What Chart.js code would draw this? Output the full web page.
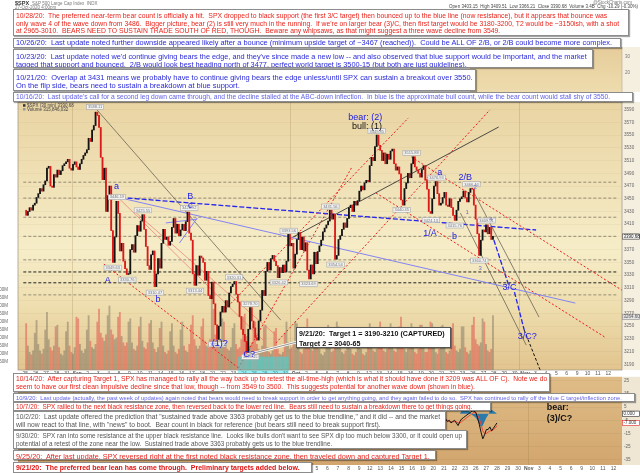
<!DOCTYPE html>
<html>
<head>
<meta charset="utf-8">
<script src="https://cdn.jsdelivr.net/npm/chart.js@4.4.1/dist/chart.umd.min.js"></script>
<style>
  html, body { margin: 0; padding: 0; background: #fff; }
  body { width: 640px; height: 473px; position: relative; overflow: hidden; font-family: "Liberation Sans", Arial, sans-serif; }
  canvas { position: absolute; left: 0; }
  #priceCanvas { top: 0; }
  #oscCanvas { top: 372px; }
  .note { position: absolute; background: #fff; border: 1px solid #8c8c8c; box-shadow: 1px 1px 1px rgba(0,0,0,0.35); box-sizing: border-box; overflow: hidden; }
  .note .txt { position: absolute; transform-origin: 0 0; white-space: pre; width: max-content; font-size: 10px; }
</style>
</head>
<body>
<canvas id="priceCanvas" width="640" height="380" style="width:640px;height:380px"></canvas>
<canvas id="oscCanvas" width="640" height="101" style="width:640px;height:101px"></canvas>
<div id="notes"></div>
<script>
// ---- data ----
const dayLabels = ['25','26','27','28','31','Sep','2','3','4','8','9','10','11','14','15','16','17','18',
  '21','22','23','24','25','28','29','30','Oct','2','5','6','7','8','9','12','13','14','15','16',
  '19','20','21','22','23','26','27','28','29','30','Nov','3','4','5','6','9','10','11','12'];
const monthNames = ['Sep', 'Oct', 'Nov'];
const slotsPerDay = 6;

// SPX 30-min path, 6 samples per trading day (first value = Aug 25 open)
const priceValues = [3432,
  3424,3430,3436,3432,3440,3443,  3452,3458,3466,3462,3472,3478,  3498,3501,3470,3468,3488,3484,
  3495,3488,3494,3502,3505,3508,  3512,3498,3495,3504,3508,3500,  3496,3505,3512,3518,3522,3527,
  3545,3540,3558,3565,3586,3581,  3562,3515,3480,3498,3430,3455,  3470,3400,3350,3390,3446,3427,
  3368,3380,3352,3340,3331,3332,  3370,3378,3366,3392,3408,3399,  3415,3425,3402,3375,3345,3339,
  3362,3368,3312,3332,3356,3341,  3380,3402,3386,3390,3377,3383,  3405,3419,3396,3410,3392,3401,
  3410,3400,3414,3429,3396,3385,  3332,3314,3345,3330,3360,3357,  3350,3322,3336,3298,3293,3319,
  3285,3252,3229,3250,3272,3281,  3272,3290,3280,3302,3312,3316,  3320,3300,3288,3265,3245,3237,
  3226,3209,3245,3279,3258,3247,  3232,3228,3258,3275,3306,3298,  3336,3350,3338,3356,3361,3352,
  3345,3326,3342,3334,3346,3335,  3352,3394,3376,3380,3341,3363,  3386,3397,3370,3390,3368,3381,
  3338,3324,3346,3332,3366,3348,  3367,3376,3385,3398,3404,3409,  3415,3432,3418,3426,3355,3361,
  3386,3392,3402,3412,3405,3419,  3436,3440,3430,3446,3440,3447,  3462,3470,3464,3475,3479,3477,
  3502,3515,3510,3532,3550,3534,  3526,3510,3522,3505,3520,3512,  3525,3528,3505,3495,3500,3489,
  3448,3440,3466,3475,3490,3483,  3505,3516,3500,3495,3490,3484,  3496,3502,3480,3465,3430,3427,
  3450,3470,3477,3458,3440,3443,  3452,3460,3440,3438,3450,3436,  3424,3416,3432,3446,3450,3453,
  3462,3452,3445,3460,3466,3465,  3440,3418,3395,3361,3385,3401,  3398,3409,3395,3405,3386,3391];

// volume (millions) per slot
const volumeValues = [
  290,150,110,95,120,230,  310,160,120,100,130,250,  360,190,140,120,150,270,  280,140,100,90,120,240,
  300,150,110,100,140,330,  320,160,120,105,130,250,  340,180,140,130,160,300,  380,230,200,180,220,340,
  400,250,220,190,200,330,  360,210,170,150,170,300,  320,170,130,120,150,270,  330,180,140,130,170,290,
  310,170,130,110,140,260,  300,150,110,100,120,240,  290,150,110,100,130,250,  300,150,120,110,160,280,
  340,190,150,130,150,270,  320,180,150,140,190,520,  380,220,180,170,190,320,  300,170,130,120,140,260,
  290,160,130,140,190,330,  350,210,170,150,170,290,  300,160,130,120,150,270,  280,140,110,100,120,240,
  260,130,100,95,110,230,  300,170,130,140,170,300,  290,150,110,100,130,250,  320,170,130,120,140,260,
  260,130,100,90,110,220,  280,140,110,120,220,300,  270,140,110,100,120,240,  260,130,100,90,110,230,
  250,130,100,90,110,230,  290,160,120,110,130,260,  300,160,120,110,130,250,  290,150,120,110,140,270,
  330,180,130,110,130,260,  290,150,110,100,130,280,  280,140,110,110,150,300,  290,150,110,100,130,270,
  280,140,110,100,120,260,  290,150,120,110,130,270,  270,140,110,100,120,280,  330,190,160,150,170,320,
  300,160,120,110,130,340];
const volumeTicks = [50,100,150,200,250,300,350,400,450,500];

// resistance / support levels
const grayLevels = [3476, 3451, 3421, 3391, 3354, 3299];
const blackLevels = [3335, 3318];

// trend lines [t1, p1, t2, p2] (t = trading-day index)
const redLines = [[7.55,3347.4,20.75,3180.8],[37.08,3515.7,58.49,3294],[33.68,3459.1,55.66,3232.7],
  [20.47,3183.9,31.32,3498.4],[24.06,3223.2,44.62,3589.6],[18.68,3267.3,36.79,3577]];
const salmonLines = [[8.96,3451.2,22.83,3228],[10.66,3427.6,24.06,3235.8]];
const grayLines = [[6.89,3589.6,24.53,3259.4],[41.79,3427.6,48.11,3220.1],[43.11,3459.1,49.34,3264.1]];
const bullLines = [[25.19,3385.2,45.47,3562.8]];
const blueDashLines = [[8.49,3452.8,49.06,3400.9],[45.0,3385.2,46.42,3314.4],[46.98,3303.4,47.92,3243.7]];
const lightBlueLines = [[8.77,3452.8,52.83,3286.1],[13.49,3412,16.51,3418],[14.81,3380.5,16.51,3419.8]];
const blackDashLines = [[47.92,3243.7,49.53,3177.6]];

// wave labels [text, t, price]
const waveLabels = [['a',8.77,3468.5],['A',7.92,3322],['b',12.74,3291],['B',15.85,3453],['c',15.85,3440],
  ['(1)?',18.68,3222],['C?',21.51,3206],['bear: (2)',32.64,3577],['a',39.81,3490.5],['2/B',42.26,3482.6],
  ['1/A',38.87,3396],['b',41.23,3390],['3/C',46.5,3310],['3/C?',48.2,3234]];
const bullLabels = [['bull: (1)',32.83,3563]];
const subLabels = [['1',42.45,3428],['2',43.2,3468],['3',43.68,3341],['4',44.72,3418]];

// pivot price tags [t, price]
const highTags = [[6.7,3588.11],[8.8,3446.19],[11.3,3425.55],[15.75,3428.92],[20.05,3320.31],[21.6,3278.70],
  [25.3,3393.56],[29.3,3431.56],[33.75,3549.85],[37.1,3515.88],[39.5,3476.93],[42.85,3466.46],[44.3,3409.51]];
const lowTags = [[8.4,3349.63],[9.8,3330.76],[12.45,3310.47],[16.3,3313.44],[18.45,3229.10],[21.6,3209.45],
  [24.35,3326.42],[27.2,3323.69],[29.8,3354.54],[36.15,3440.45],[38.95,3424.13],[41.25,3415.76],[43.6,3360.74]];
const targetZoneT = [20.4, 25.3];
const targetZoneP = [3170, 3202];
const lastClose = 3390.68;
const maValue = 3264.60;

// lower panel oscillator, from Oct 19 (slot 228)
const oscFirstSlot = 228;
const oscBlack = [2,0,-3,-5,-8,-10,-11, -9,-6,-4,-3,-4,-5, -4,-6,-5,-7,-6,-5, -7,-9,-6,-4,-3,-2,
  -1,0,1,2,2,1, -3,-8,-14,-19,-16,-12, -12,-10,-13,-11,-9,-7];
const oscRed = [4,2,0,-2,-4,-6,-8, -8,-7,-6,-5,-5,-5, -5,-5,-6,-6,-6,-6, -6,-7,-7,-6,-5,-4,
  -3,-2,-1,0,1,1, -1,-4,-8,-13,-15,-15, -14,-13,-13,-12,-11,-9];
const oscHist = [0,0,0,0,0,0,0, 0,0,0,0,0,0, 0,0,0,0,0,0, 0,0,0,2,3,3, 3,2,1,-1,-2,-3,
  -5,-8,-10,-9,-6,-3, -1,2,3,2,1,0];
const oscTicks = [-35,-30,-25,-20,-15,-10,-5,0,5,10,15,20,25];
const bearLabels = [['bear:',49.7,4.7],['(3)/C?',49.7,-3.6]];

const priceTicks = [];
for (let v = 3190; v <= 3600; v += 10) priceTicks.push(v);

// ---- datasets ----
const FONT = '"Liberation Sans", Arial, sans-serif';
const candles = [], volumes = [];
for (let i = 1; i < priceValues.length; i++) {
  const t = (i - 0.5) / slotsPerDay;
  candles.push({x: t, y: [priceValues[i - 1], priceValues[i]]});
  volumes.push({x: t, y: volumeValues[i - 1], up: priceValues[i] >= priceValues[i - 1]});
}

function segs(list, style) {
  return list.map(s => Object.assign({
    type: 'line', yAxisID: 'y', pointRadius: 0, fill: false, order: 2,
    data: [{x: s[0], y: s[1]}, {x: s[2], y: s[3]}]
  }, style));
}
function levels(list, style) {
  return list.map(v => Object.assign({
    type: 'line', yAxisID: 'y', pointRadius: 0, fill: false, order: 3,
    data: [{x: -0.19, y: v}, {x: 56.8, y: v}]
  }, style));
}

const datasets = [
  {type: 'bar', yAxisID: 'yv', data: volumes, order: 4, grouped: false, barThickness: 1.2,
   backgroundColor: ctx => ctx.raw && ctx.raw.up ? 'rgba(112,106,92,0.45)' : 'rgba(222,88,78,0.55)'},
  ...levels(grayLevels, {borderColor: '#7d7565', borderWidth: 0.8, borderDash: [3, 2]}),
  ...levels(blackLevels, {borderColor: '#222', borderWidth: 1, borderDash: [3, 2]}),
  ...segs(lightBlueLines, {borderColor: '#8484f5', borderWidth: 1}),
  ...segs(salmonLines, {borderColor: 'rgba(235,110,100,0.8)', borderWidth: 0.8}),
  ...segs(grayLines, {borderColor: '#6b6455', borderWidth: 0.8}),
  ...segs(bullLines, {borderColor: '#3a3a3a', borderWidth: 0.9}),
  ...segs(redLines, {borderColor: '#ee1c1c', borderWidth: 1, borderDash: [2, 2]}),
  ...segs(blueDashLines, {borderColor: '#2424f0', borderWidth: 1.3, borderDash: [5, 2]}),
  ...segs(blackDashLines, {borderColor: '#111', borderWidth: 1, borderDash: [3, 2]}),
  {type: 'bar', yAxisID: 'y', data: candles, order: 0, grouped: false, barThickness: 1.2, minBarLength: 1,
   backgroundColor: ctx => ctx.raw && ctx.raw.y[1] >= ctx.raw.y[0] ? '#141414' : '#dc1a1a'}
];

function drawTag(ctx, px, py, txt) {
  ctx.font = '4px ' + FONT;
  const w = ctx.measureText(txt).width + 3;
  ctx.fillStyle = '#f2f2f2';
  ctx.strokeStyle = '#a8a8a8';
  ctx.lineWidth = 0.6;
  ctx.fillRect(px - w / 2, py - 2.5, w, 5);
  ctx.strokeRect(px - w / 2, py - 2.5, w, 5);
  ctx.fillStyle = '#777';
  ctx.fillText(txt, px, py + 0.2);
}

const priceBg = {
  id: 'priceBg',
  beforeDraw(chart) {
    const {ctx, chartArea: a} = chart;
    ctx.save();
    const g = ctx.createLinearGradient(0, a.top, 0, a.bottom);
    g.addColorStop(0, '#e9d4a3');
    g.addColorStop(0.3, '#f0e1b6');
    g.addColorStop(0.55, '#f6edc8');
    g.addColorStop(0.75, '#efdfb0');
    g.addColorStop(1, '#e2c48f');
    ctx.fillStyle = g;
    ctx.fillRect(a.left, a.top, a.right - a.left, a.bottom - a.top);
    ctx.fillStyle = '#f5efdf';
    ctx.fillRect(a.right, a.top, chart.width - a.right, a.bottom - a.top);
    // remnant strip of the previous chart behind the notes
    const s = ctx.createLinearGradient(0, 47, 0, 92);
    s.addColorStop(0, '#e6cc9a');
    s.addColorStop(1, '#eedcae');
    ctx.fillStyle = s;
    ctx.fillRect(470, 47, 152, 45);
    ctx.fillStyle = '#f5efdf';
    ctx.fillRect(622, 47, 18, 45);
    ctx.strokeStyle = '#b9a98a';
    ctx.lineWidth = 0.6;
    ctx.beginPath(); ctx.moveTo(622, 47); ctx.lineTo(622, 92); ctx.stroke();
    ctx.fillStyle = '#777';
    ctx.font = '4.5px ' + FONT;
    ctx.textAlign = 'left';
    ctx.textBaseline = 'middle';
    ctx.fillText('30', 625, 57);
    ctx.fillText('20', 625, 73);
    ctx.restore();
  },
  afterDraw(chart) {
    const {ctx, chartArea: a} = chart;
    ctx.save();
    ctx.strokeStyle = '#9a9080';
    ctx.lineWidth = 0.7;
    ctx.strokeRect(a.left, a.top, a.right - a.left, a.bottom - a.top);
    // header
    ctx.textBaseline = 'middle';
    ctx.textAlign = 'left';
    ctx.fillStyle = '#333';
    ctx.font = 'bold 5.5px ' + FONT;
    ctx.fillText('$SPX', 15, 3.5);
    ctx.font = '4.5px ' + FONT;
    ctx.fillStyle = '#777';
    ctx.fillText('S&P 500 Large Cap Index  INDX', 32, 3.5);
    ctx.fillText('27-Oct-2020 4:00pm', 15, 8);
    ctx.textAlign = 'right';
    ctx.fillText('@StockCharts.com', 632, 3);
    ctx.fillStyle = '#444';
    ctx.fillText('Open 3403.15  High 3409.51  Low 3366.21  Close 3390.68  Volume 3.4B  Chg -10.29 (-0.30%)', 638, 7.2);
    // legend
    ctx.textAlign = 'left';
    ctx.fillStyle = '#333';
    ctx.fillRect(a.left + 5, a.top + 2.2, 2.5, 2.5);
    ctx.fillStyle = '#999';
    ctx.fillRect(a.left + 5, a.top + 6, 2.5, 2.5);
    ctx.fillStyle = '#444';
    ctx.font = '4.5px ' + FONT;
    ctx.fillText('$SPX (30 min) 3390.68', a.left + 9, a.top + 3.5);
    ctx.fillText('Volume 315,846,032', a.left + 9, a.top + 7.3);
    ctx.restore();
  }
};

const marks = {
  id: 'marks',
  afterDatasetsDraw(chart) {
    const {ctx, chartArea: a} = chart;
    const x = chart.scales.x, y = chart.scales.y;
    ctx.save();
    // cyan target zone
    const zx1 = x.getPixelForValue(targetZoneT[0]), zx2 = x.getPixelForValue(targetZoneT[1]);
    const zy1 = y.getPixelForValue(targetZoneP[1]), zy2 = y.getPixelForValue(targetZoneP[0]);
    ctx.fillStyle = 'rgba(40,225,235,0.5)';
    ctx.fillRect(zx1, zy1, zx2 - zx1, zy2 - zy1);
    // callout from the 9/21 box to the C? low
    const cx = x.getPixelForValue(21.3), cy = y.getPixelForValue(3205);
    ctx.lineCap = 'round';
    ctx.strokeStyle = '#fff';
    ctx.lineWidth = 2.4;
    ctx.beginPath(); ctx.moveTo(297, 342); ctx.lineTo(cx, cy); ctx.stroke();
    ctx.strokeStyle = '#777';
    ctx.lineWidth = 0.8;
    ctx.beginPath(); ctx.moveTo(297, 342); ctx.lineTo(cx, cy); ctx.stroke();
    // pivot tags
    ctx.textAlign = 'center';
    ctx.textBaseline = 'middle';
    highTags.forEach(([t, p]) => drawTag(ctx, x.getPixelForValue(t), y.getPixelForValue(p) - 4, p.toFixed(2)));
    lowTags.forEach(([t, p]) => drawTag(ctx, x.getPixelForValue(t), y.getPixelForValue(p) + 5, p.toFixed(2)));
    // wave labels
    ctx.font = '9px ' + FONT;
    ctx.fillStyle = '#2020e8';
    waveLabels.forEach(([txt, t, p]) => ctx.fillText(txt, x.getPixelForValue(t), y.getPixelForValue(p)));
    ctx.fillStyle = '#111';
    bullLabels.forEach(([txt, t, p]) => ctx.fillText(txt, x.getPixelForValue(t), y.getPixelForValue(p)));
    ctx.font = '6px ' + FONT;
    ctx.fillStyle = '#6f6fc8';
    subLabels.forEach(([txt, t, p]) => ctx.fillText(txt, x.getPixelForValue(t), y.getPixelForValue(p)));
    // axis price markers
    ctx.font = '4.5px ' + FONT;
    ctx.textAlign = 'left';
    [[lastClose, '#fff', '#222', '#111'], [maValue, '#e4e4e4', '#888', '#555']].forEach(([v, bg, bd, fg]) => {
      const py = y.getPixelForValue(v);
      ctx.fillStyle = bg; ctx.strokeStyle = bd; ctx.lineWidth = 0.6;
      ctx.fillRect(a.right + 0.5, py - 2.6, 17, 5.2);
      ctx.strokeRect(a.right + 0.5, py - 2.6, 17, 5.2);
      ctx.fillStyle = fg;
      ctx.fillText(v.toFixed(2), a.right + 1.5, py + 0.2);
    });
    ctx.restore();
  }
};

const xTicks = {
  type: 'linear', min: -0.19, max: 56.8, position: 'bottom',
  afterBuildTicks: s => { s.ticks = dayLabels.map((_, i) => ({value: i})); },
  afterFit: s => { s.height = 10; },
  border: {display: false},
  grid: {drawTicks: false, lineWidth: 0.7,
    color: c => c.tick && monthNames.includes(dayLabels[c.tick.value]) ? 'rgba(150,120,70,0.35)' : 'rgba(0,0,0,0)'},
  ticks: {autoSkip: false, maxRotation: 0, padding: 1, color: '#555',
    font: c => ({family: FONT, size: 5, weight: c.tick && monthNames.includes(dayLabels[c.tick.value]) ? 'bold' : 'normal'}),
    callback: v => dayLabels[v] ?? ''}
};

new Chart(document.getElementById('priceCanvas'), {
  type: 'bar',
  data: {datasets},
  options: {
    responsive: false, animation: false, events: [],
    layout: {padding: {top: 102, left: 0, right: 0, bottom: 0}},
    plugins: {legend: {display: false}, tooltip: {enabled: false}},
    scales: {
      x: xTicks,
      y: {type: 'linear', position: 'right', min: 3181, max: 3602,
        afterBuildTicks: s => { s.ticks = priceTicks.map(v => ({value: v})); },
        afterFit: s => { s.width = 18; },
        border: {display: false},
        grid: {color: 'rgba(160,130,70,0.12)', lineWidth: 0.6, drawTicks: false},
        ticks: {padding: 2, color: '#666', font: {family: FONT, size: 4.6}, callback: v => String(v)}},
      yv: {type: 'linear', position: 'left', min: 0, max: 1675,
        afterBuildTicks: s => { s.ticks = volumeTicks.map(v => ({value: v})); },
        afterFit: s => { s.width = 18; },
        border: {display: false},
        grid: {display: false},
        ticks: {padding: 2, color: '#666', font: {family: FONT, size: 4.5}, callback: v => v + 'M'}}
    }
  },
  plugins: [priceBg, marks]
});

// ---- lower panel ----
const oscPt = arr => arr.map((v, i) => ({x: (oscFirstSlot + i) / slotsPerDay, y: v}));
const oscBg = {
  id: 'oscBg',
  beforeDraw(chart) {
    const {ctx, chartArea: a} = chart;
    ctx.save();
    const g = ctx.createLinearGradient(0, a.top, 0, a.bottom);
    g.addColorStop(0, '#dfbc87');
    g.addColorStop(1, '#d2a66e');
    ctx.fillStyle = g;
    ctx.fillRect(a.left, a.top, a.right - a.left, a.bottom - a.top);
    ctx.fillStyle = '#efe6d3';
    ctx.fillRect(a.right, a.top, chart.width - a.right, a.bottom - a.top);
    ctx.restore();
  },
  afterDatasetsDraw(chart) {
    const {ctx, chartArea: a} = chart;
    const x = chart.scales.x, y = chart.scales.y;
    ctx.save();
    ctx.font = 'bold 9px ' + FONT;
    ctx.fillStyle = '#111';
    ctx.textAlign = 'left';
    ctx.textBaseline = 'middle';
    bearLabels.forEach(([txt, t, v]) => ctx.fillText(txt, x.getPixelForValue(t), y.getPixelForValue(v)));
    ctx.font = '4.5px ' + FONT;
    [[oscHist[oscHist.length - 1], '#222'], [oscBlack[oscBlack.length - 1], '#e02020']].forEach(([v, bd]) => {
      const py = y.getPixelForValue(v);
      ctx.fillStyle = '#fff'; ctx.strokeStyle = bd; ctx.lineWidth = 0.6;
      ctx.fillRect(a.right + 0.5, py - 2.6, 17, 5.2);
      ctx.strokeRect(a.right + 0.5, py - 2.6, 17, 5.2);
      ctx.fillStyle = '#333';
      ctx.fillText(v.toFixed(3), a.right + 1.5, py + 0.2);
    });
    ctx.restore();
  }
};

new Chart(document.getElementById('oscCanvas'), {
  type: 'line',
  data: {datasets: [
    {data: oscPt(oscHist), borderWidth: 0, pointRadius: 0, fill: 'origin', backgroundColor: 'rgba(24,115,175,0.9)', order: 3},
    {data: oscPt(oscRed), borderColor: '#f0483a', borderWidth: 1, pointRadius: 0, fill: false, order: 2},
    {data: oscPt(oscBlack), borderColor: '#111', borderWidth: 1, pointRadius: 0, fill: false, order: 1}
  ]},
  options: {
    responsive: false, animation: false, events: [],
    layout: {padding: {top: 2, left: 18, right: 0, bottom: 0}},
    plugins: {legend: {display: false}, tooltip: {enabled: false}},
    scales: {
      x: Object.assign({}, xTicks, {afterFit: s => { s.height = 8; }}),
      y: {type: 'linear', position: 'right', min: -38.8, max: 27.9,
        afterBuildTicks: s => { s.ticks = oscTicks.map(v => ({value: v})); },
        afterFit: s => { s.width = 18; },
        border: {display: false},
        grid: {color: 'rgba(120,80,30,0.12)', lineWidth: 0.6, drawTicks: false},
        ticks: {padding: 2, color: '#666', font: {family: FONT, size: 4.6}, callback: v => String(v)}}
    }
  },
  plugins: [oscBg]
});

// ---- annotation notes ----
const RED = '#e8231b', BLUE = '#2a2ad8', LBLUE = '#6262e6', GRAY = '#555';
const noteSpecs = [
  {left: 13, top: 9, w: 616, h: 27, pad: 1.6, lh: 7.6, fit: 603, color: RED, lines: [
    '10/28/20:  The preferred near-term bear count is officially a hit.  SPX dropped to black support (the first 3/C target) then bounced up to the blue line (now resistance), but it appears that bounce was',
    'only wave 4 of the wave down from 3486.  Bigger picture, bear (2) is still very much in the running.  If we\'re on larger bear (3)/C, then first target would be 3180-3200, T2 would be ~3150ish, with a shot',
    'at 2965-3010.  BEARS NEED TO SUSTAIN TRADE SOUTH OF RED, THOUGH.  Beware any whipsaws, as that might suggest a three wave decline from 3549.']},
  {left: 13, top: 37.5, w: 608, h: 10, pad: 0.8, lh: 8, fit: 596, color: BLUE, lines: [
    '10/26/20:  Last update noted further downside appeared likely after a bounce (minimum upside target of ~3467 (reached)).  Could be ALL OF 2/B, or 2/B could become more complex.']},
  {left: 13, top: 49, w: 580, h: 19, pad: 1.5, lh: 8.3, fit: 571, color: BLUE, lines: [
    '10/23/20:  Last update noted we\'d continue giving bears the edge, and they\'ve since made a new low -- and also observed that blue support would be important, and the market',
    'tagged that support and bounced.  2/B would look best heading north of 3477, perfect world target is 3500-15 (but both are just guidelines).']},
  {left: 13, top: 69, w: 463, h: 21.5, pad: 3.5, lh: 8, fit: 457, color: BLUE, lines: [
    '10/21/20:  Overlap at 3431 means we probably have to continue giving bears the edge unless/until SPX can sustain a breakout over 3550.',
    'On the flip side, bears need to sustain a breakdown at blue support.']},
  {left: 13, top: 91.5, w: 620, h: 10, pad: 0.8, lh: 8, fit: 594, color: LBLUE, lines: [
    '10/16/20:  Last update\'s call for a second leg down came through, and the decline stalled at the ABC-down inflection.  In blue is the approximate bull count, while the bear count would stall shy of 3550.']},
  {left: 13, top: 373, w: 537, h: 19, pad: 1, lh: 8, fit: 531, color: RED, lines: [
    '10/14/20:  After capturing Target 1, SPX has managed to rally all the way back up to retest the all-time-high (which is what it should have done if 3209 was ALL OF C).  Note we do',
    'seem to have our first clean impulsive decline since that low, though -- from 3549 to 3500.  This suggests potential for another wave down (shown in blue).']},
  {left: 13, top: 392.5, w: 622, h: 9, pad: 0.5, lh: 8, fit: 606, color: LBLUE, lines: [
    '10/9/20:  Last update (actually, the past week of updates) again noted that bears would need to break support in order to get anything going, and they again failed to do so.  SPX has continued to rally off the blue C target/inflection zone.']},
  {left: 13, top: 401.5, w: 478, h: 9.5, pad: 0.6, lh: 8, fit: 456, color: RED, lines: [
    '10/7/20:  SPX rallied to the next black resistance zone, then reversed back to the lower red line.  Bears still need to sustain a breakdown there to get things going.']},
  {left: 13, top: 411, w: 433, h: 18.5, pad: 1, lh: 8, fit: 424, color: GRAY, lines: [
    '10/2/20:  Last update offered the prediction that "sustained trade above 3363 probably get us to the blue trendline," and it did -- and the market',
    'will now react to that line, with "news" to boot.  Bear count in black for reference (but bears still need to break support first).']},
  {left: 13, top: 430, w: 454, h: 18.5, pad: 1, lh: 8, fit: 446, color: GRAY, lines: [
    '9/30/20:  SPX ran into some resistance at the upper black resistance line.  Looks like bulls don\'t want to see SPX dip too much below 3300, or it could open up',
    'potential of a retest of the zone near the low.  Sustained trade above 3363 probably gets us to the blue trendline.']},
  {left: 13, top: 449.5, w: 423, h: 10.5, pad: 1, lh: 8, fit: 414, color: RED, lines: [
    '9/25/20:  After last update, SPX reversed right at the first noted black resistance zone, then traveled down and captured Target 1.']},
  {left: 13, top: 461.5, w: 299, h: 11, pad: 1.5, lh: 8, fit: 284, color: '#e01010', bold: true, lines: [
    '9/21/20:  The preferred bear lean has come through.  Preliminary targets added below.']},
  {left: 296, top: 327, w: 155, h: 21, pad: 1.5, lh: 9, fit: 146, color: '#111', bold: true, border: '#555', lines: [
    '9/21/20:  Target 1 = 3190-3210 (CAPTURED)',
    'Target 2 = 3040-65']}
];

const host = document.getElementById('notes');
noteSpecs.forEach(n => {
  const box = document.createElement('div');
  box.className = 'note';
  box.style.left = n.left + 'px';
  box.style.top = n.top + 'px';
  box.style.width = n.w + 'px';
  box.style.height = n.h + 'px';
  if (n.border) box.style.borderColor = n.border;
  const txt = document.createElement('div');
  txt.className = 'txt';
  txt.style.color = n.color;
  if (n.bold) txt.style.fontWeight = 'bold';
  n.lines.forEach(l => {
    const d = document.createElement('div');
    d.textContent = l;
    txt.appendChild(d);
  });
  box.appendChild(txt);
  host.appendChild(box);
  const s = n.fit / txt.offsetWidth;
  txt.style.lineHeight = (n.lh / s) + 'px';
  txt.style.left = '2px';
  txt.style.top = n.pad + 'px';
  txt.style.transform = 'scale(' + s + ')';
});
</script>
</body>
</html>
